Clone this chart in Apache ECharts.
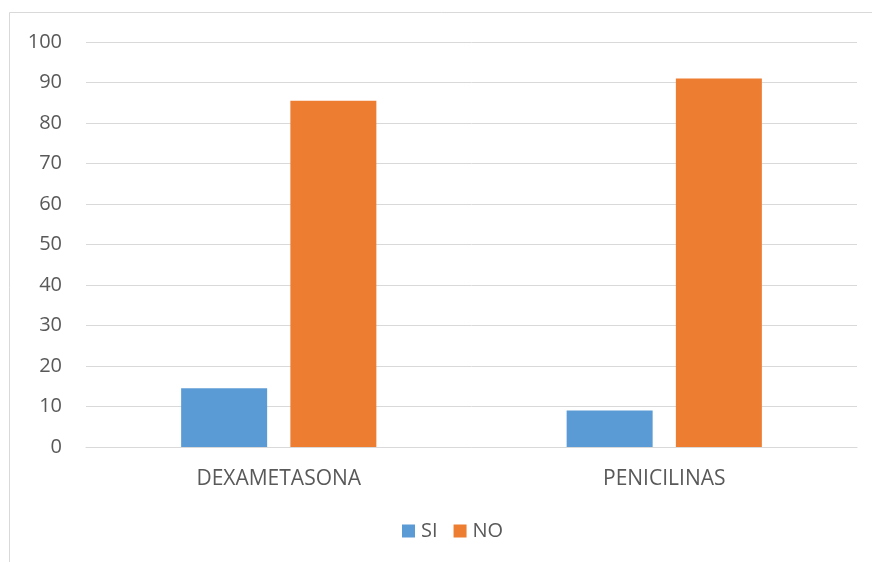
<!DOCTYPE html>
<html>
<head>
<meta charset="utf-8">
<script src="https://cdn.jsdelivr.net/npm/echarts@6/dist/echarts.min.js"></script>
<style>html,body{margin:0;padding:0;background:#fff;}#c{width:872px;height:562px;}</style>
</head>
<body>
<div id="c"></div>
<script>
const categories = ['DEXAMETASONA', 'PENICILINAS'];
const siValues = [14.5, 9.0];
const noValues = [85.5, 91.0];
const seriesNames = ['SI', 'NO'];

const chart = echarts.init(document.getElementById('c'), null, {renderer: 'canvas'});
const font = '"Open Sans", "Noto Sans", sans-serif';
chart.setOption({
  animation: false,
  graphic: [{
    type: 'rect', shape: {x: 9.5, y: 12.5, width: 900, height: 600},
    style: {fill: 'none', stroke: '#d9d9d9', lineWidth: 1}, silent: true
  }],
  grid: {left: 86, right: 15, top: 42, bottom: 115},
  legend: {
    data: seriesNames, top: 516, left: 397,
    itemWidth: 13, itemHeight: 13, itemGap: 16, icon: 'rect',
    textStyle: {color: '#595959', fontSize: 20, fontFamily: font, padding: [0,0,0,1]}
  },
  xAxis: {
    type: 'category', data: categories,
    axisLine: {show: true, lineStyle: {color: '#d9d9d9'}},
    axisTick: {show: false},
    axisLabel: {color: '#595959', fontSize: 21, fontFamily: font, margin: 22}
  },
  yAxis: {
    type: 'value', min: 0, max: 100, interval: 10,
    axisLine: {show: false}, axisTick: {show: false},
    axisLabel: {color: '#595959', fontSize: 20, fontFamily: font, margin: 24},
    splitLine: {lineStyle: {color: '#d9d9d9', width: 1}}
  },
  series: [
    {name: seriesNames[0], type: 'bar', data: siValues, barWidth: 86, barGap: '27%',
     itemStyle: {color: '#5b9bd5'}},
    {name: seriesNames[1], type: 'bar', data: noValues, barWidth: 86, barGap: '27%',
     itemStyle: {color: '#ed7d31'}}
  ]
});
</script>
</body>
</html>
